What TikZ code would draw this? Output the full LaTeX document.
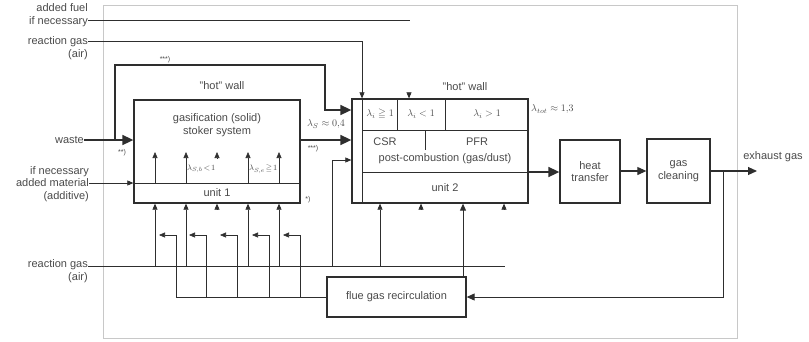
\documentclass[tikz,border=0pt]{standalone}
\usepackage{amsmath, amssymb}
\usepackage{fontspec}
\setmainfont{Liberation Sans}
\usetikzlibrary{arrows.meta, positioning, calc}
\definecolor{mInk}{HTML}{2E2E2E}
\definecolor{mText}{HTML}{4A4A4A}
\definecolor{mFrame}{HTML}{C8C8C8}

\begin{document}
\begin{tikzpicture}[x=1pt, y=-1pt, line join=miter,
      every node/.style={text=mText, font=\fontsize{11}{12.5}\selectfont, inner sep=0pt},
      box/.style={draw=mInk, line width=1.3pt, rectangle},
      ln/.style={draw=mInk, line width=0.6pt},
      flow/.style={ln, -{Triangle[length=6pt, width=5pt]}},
      mid/.style={draw=mInk, line width=1.1pt, -{Triangle[length=9pt, width=8pt]}},
      fat/.style={draw=mInk, line width=1.7pt, -{Triangle[length=11pt, width=10pt]}},
      note/.style={font=\fontsize{7}{8}\selectfont},
      lam/.style={font=\fontsize{10}{11}\selectfont}]
    \useasboundingbox (0,0) rectangle (809,341);
    \draw[mFrame, line width=0.8pt] (103,5) rectangle (737,338);

    % boxes
    \node[box, minimum width=166pt, minimum height=103pt] (unit1) at (217,151.5) {};
    \node[box, minimum width=176pt, minimum height=104pt] (unit2) at (440,151) {};
    \node[box, minimum width=60pt, minimum height=63pt, align=center] (heat) at (590,171.5) {heat\\transfer};
    \node[box, minimum width=63pt, minimum height=64pt, align=center] (clean) at (678.5,171) {gas\\cleaning};
    \node[box, minimum width=139pt, minimum height=40pt] (flue) at (396.5,297) {flue gas recirculation};

    % side labels
    \node[anchor=east, align=right] (fuel) at (88,15) {added fuel\\if necessary};
    \node[anchor=east, align=right] (airtop) at (88,48) {reaction gas\\(air)};
    \node[anchor=east] (waste) at (84,140) {waste};
    \node[anchor=east, align=right] (additive) at (89,184) {if necessary\\added material\\(additive)};
    \node[anchor=east, align=right] (airbot) at (88,271) {reaction gas\\(air)};
    \node (exhaust) at (773,157) {exhaust gas};

    % texts in and round the units
    \node (wall1) at (222,86) {"hot" wall};
    \node (wall2) at (465,87) {"hot" wall};
    \node[align=center] (gasif) at (217,125) {gasification (solid)\\stoker system};
    \node (u1) at (217,193) {unit 1};
    \node (u2) at (445,188) {unit 2};
    \node (csr) at (385,142) {CSR};
    \node (pfr) at (477,142) {PFR};
    \node (post) at (445,159) {post-combustion (gas/dust)};
    \node[lam] (l1) at (380,114) {$\lambda_i \geqq 1$};
    \node[lam] (l2) at (421,114) {$\lambda_i < 1$};
    \node[lam] (l3) at (487,114) {$\lambda_i > 1$};
    \node[lam, anchor=west] (ltot) at (531,109) {$\lambda_{tot} \approx 1{,}3$};
    \node[lam] (ls) at (326,124) {$\lambda_S \approx 0{,}4$};
    \node[lam, anchor=west, font=\fontsize{8}{9}\selectfont] (lsb) at (187,169) {$\lambda_{S,b}\!<\!1$};
    \node[lam, anchor=west, font=\fontsize{8}{9}\selectfont] (lse) at (249,169) {$\lambda_{S,e}\!\geqq\!1$};
    \node[note] at (165,60) {***)};
    \node[note] at (122,153) {**)};
    \node[note] at (313,149) {***)};
    \node[note] at (308,200) {*)};

    % inner lines of the units
    \draw[ln] (unit1.west |- 0,183) -- (unit1.east |- 0,183);
    \draw[ln, line width=0.9pt] (362,99) -- (362,203);
    \draw[ln] (362,130) -- (unit2.east |- 0,130);
    \draw[ln] (397,99) -- (397,130);
    \draw[ln] (445,99) -- (445,130);
    \draw[ln] (425,130) -- (425,150);
    \draw[ln] (362,172) -- (unit2.east |- 0,172);
    \foreach \x in {155,186,248,279} \draw[flow] (\x,183) -- (\x,152);
    \draw[flow] (217,158) -- (217,152);

    % top feeds
    \draw[ln] (fuel.east |- 0,20) -- (410,20);
    \draw[flow] (airtop.east |- 0,41) -- (362,41) -- (unit2.north -| 362,0);
    \draw[flow] (409,93) -- (unit2.north -| 409,0);

    % main flow
    \draw[fat] (waste.east) -- (unit1.west |- 0,140);
    \draw[fat] (115,140) -- (115,65) -- (325,65) -- (325,110) -- (unit2.west |- 0,110);
    \draw[fat] (unit1.east |- 0,140) -- (unit2.west |- 0,140);
    \draw[flow] (additive.east |- 0,183) -- (unit1.west |- 0,183);
    \draw[fat] (unit2.east |- 0,172) -- (heat.west |- 0,172);
    \draw[mid] (heat.east |- 0,171) -- (clean.west |- 0,171);
    \draw[mid] (clean.east |- 0,171) -- (757,171);

    % lower reaction gas
    \draw[ln] (airbot.east |- 0,266) -- (505,266);
    \foreach \x in {155,186,248,279} \draw[flow] (\x,266) -- (unit1.south -| \x,0);
    \draw[flow] (217,209) -- (unit1.south -| 217,0);
    \draw[flow] (332,266) -- (332,160) -- (unit2.west |- 0,160);
    \draw[flow] (380,266) -- (unit2.south -| 380,0);
    \draw[flow] (421,209) -- (unit2.south -| 421,0);
    \draw[flow] (504,209) -- (unit2.south -| 504,0);
    \draw[ln, line width=0.9pt, -{Triangle[length=7pt, width=6pt]}] (flue.north -| 463,0) -- (unit2.south -| 463,0);

    % flue gas recirculation
    \draw[ln, line width=0.9pt, -{Triangle[length=8pt, width=7pt]}] (723,171) -- (723,297) -- (flue.east);
    \draw[ln] (flue.west) -- (176,297);
    \foreach \x in {176,206,237,269,300} \draw[flow] (\x,297) -- (\x,235) -- (\x-17,235);
  \end{tikzpicture}
\end{document}
